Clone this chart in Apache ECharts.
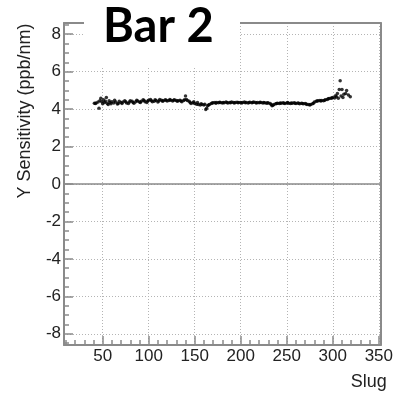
<!DOCTYPE html>
<html>
<head>
<meta charset="utf-8">
<script src="https://cdn.jsdelivr.net/npm/echarts@6/dist/echarts.min.js"></script>
<style>
  html, body { margin: 0; padding: 0; background: #fff; }
  #chart { width: 396px; height: 397px; }
</style>
</head>
<body>
<div id="chart"></div>
<script>
// Y sensitivity per slug, [slug, ppb/nm]
const sensitivity = [
  [41,4.32],[42,4.30],[43,4.33],[45,4.38],[46,4.05],[47,4.45],[48,4.58],[49,4.40],[50,4.28],
  [51,4.50],[52,4.35],[53,4.42],[54,4.62],[55,4.30],[56,4.25],[57,4.45],[58,4.36],[59,4.28],[60,4.40],
  [62,4.33],[63,4.48],[64,4.38],[66,4.27],[67,4.30],[68,4.42],[70,4.35],[71,4.30],[72,4.38],[74,4.45],
  [75,4.40],[76,4.33],[78,4.30],[79,4.38],[80,4.45],[82,4.42],[83,4.36],[84,4.32],[86,4.40],[87,4.48],
  [88,4.44],[90,4.38],[91,4.35],[92,4.42],[94,4.50],[95,4.46],[96,4.40],[98,4.36],[99,4.44],[100,4.48],
  [102,4.52],[103,4.45],[104,4.40],[106,4.42],[107,4.50],[108,4.46],[110,4.38],[111,4.44],[112,4.52],
  [114,4.48],[115,4.42],[116,4.45],[118,4.50],[119,4.47],[120,4.43],[122,4.46],[123,4.52],[124,4.48],
  [126,4.44],[127,4.47],[128,4.50],[130,4.46],[131,4.42],[132,4.45],[134,4.48],[135,4.44],[136,4.40],
  [138,4.46],[139,4.50],[140,4.70],[141,4.52],[142,4.46],[144,4.42],[145,4.36],[146,4.30],[148,4.34],
  [149,4.40],[150,4.30],[152,4.26],[153,4.35],[154,4.25],[156,4.22],[157,4.28],[158,4.24],[160,4.22],
  [161,4.26],[162,3.98],[163,4.05],[164,4.18],[165,4.22],[166,4.25],[168,4.30],[169,4.33],[170,4.34],
  [172,4.35],[173,4.32],[174,4.36],[176,4.34],[177,4.37],[178,4.35],[180,4.33],[181,4.36],[182,4.34],
  [184,4.38],[185,4.35],[186,4.33],[188,4.36],[189,4.34],[190,4.38],[192,4.36],[193,4.33],[194,4.35],
  [196,4.37],[197,4.34],[198,4.36],[200,4.35],[201,4.33],[202,4.36],[204,4.38],[205,4.34],[206,4.36],
  [208,4.33],[209,4.35],[210,4.37],[212,4.34],[213,4.36],[214,4.38],[216,4.35],[217,4.33],[218,4.36],
  [220,4.34],[221,4.37],[222,4.35],[224,4.33],[225,4.36],[226,4.34],[228,4.32],[229,4.34],[230,4.33],
  [232,4.30],[233,4.25],[234,4.18],[235,4.20],[236,4.25],[238,4.28],[239,4.30],[240,4.32],[242,4.30],
  [243,4.33],[244,4.31],[246,4.34],[247,4.32],[248,4.30],[250,4.33],[251,4.35],[252,4.32],[254,4.30],
  [255,4.33],[256,4.31],[258,4.34],[259,4.32],[260,4.30],[262,4.33],[263,4.31],[264,4.29],[266,4.32],
  [267,4.30],[268,4.28],[270,4.30],[271,4.27],[272,4.25],[274,4.24],[275,4.22],[276,4.25],[278,4.28],
  [279,4.32],[280,4.38],[282,4.42],[283,4.44],[284,4.45],[286,4.46],[287,4.44],[288,4.46],[290,4.45],
  [291,4.47],[292,4.50],[294,4.52],[295,4.55],[296,4.57],[298,4.58],[299,4.60],[300,4.62],[302,4.60],
  [303,4.72],[304,4.66],[305,4.84],[306,4.58],[307,5.05],[308,5.51],[309,4.70],[310,5.05],[311,4.62],
  [312,4.80],[314,4.84],[315,5.00],[317,4.75],[319,4.66]
];

// Axis ranges and tick positions
const xRange = [8, 352];
const yRange = [-8.6, 8.6];
const xMajorTicks = [50, 100, 150, 200, 250, 300, 350];
const xMinorTicks = [10, 20, 30, 40, 60, 70, 80, 90, 110, 120, 130, 140, 160, 170, 180, 190,
  210, 220, 230, 240, 260, 270, 280, 290, 310, 320, 330, 340];
const yMajorTicks = [-8, -6, -4, -2, 0, 2, 4, 6, 8];
const yMinorTicks = [-8.5, -7.5, -7, -6.5, -5.5, -5, -4.5, -3.5, -3, -2.5, -1.5, -1, -0.5,
  0.5, 1, 1.5, 2.5, 3, 3.5, 4.5, 5, 5.5, 6.5, 7, 7.5, 8.5];

const AXIS_GREY = '#8a8a8a';
const GRID_GREY = '#b4b4b4';
const TEXT = '#222';
const FONT = '"Liberation Sans", Arial, Helvetica, sans-serif';

const hidden = { show: false };

const chart = echarts.init(document.getElementById('chart'), null, { renderer: 'canvas' });

chart.setOption({
  animation: false,
  backgroundColor: '#fff',
  grid: { left: 64, right: 12, top: 23, bottom: 52, containLabel: false },
  xAxis: [
    {
      type: 'value', min: xRange[0], max: xRange[1], position: 'bottom',
      name: 'Slug', nameLocation: 'end', nameGap: 6,
      nameTextStyle: { color: TEXT, fontFamily: FONT, fontSize: 18, align: 'right', verticalAlign: 'top', padding: [28, 0, 0, 0] },
      axisLine: { show: true, onZero: false, lineStyle: { color: AXIS_GREY, width: 2 } },
      axisTick: { show: true, inside: true, length: 9, customValues: xMajorTicks, lineStyle: { color: AXIS_GREY, width: 1.5 } },
      axisLabel: { show: true, customValues: xMajorTicks, margin: 3, color: TEXT, fontFamily: FONT, fontSize: 17 },
      splitLine: { show: true, lineStyle: { color: GRID_GREY, width: 1, type: [1, 2] } }
    },
    {
      type: 'value', min: xRange[0], max: xRange[1], position: 'bottom',
      axisLine: { show: false, onZero: false },
      axisTick: { show: true, inside: true, length: 5, customValues: xMinorTicks, lineStyle: { color: AXIS_GREY, width: 1.5 } },
      axisLabel: hidden, splitLine: hidden
    },
    {
      type: 'value', min: xRange[0], max: xRange[1], position: 'top',
      axisLine: { show: true, onZero: false, lineStyle: { color: AXIS_GREY, width: 2 } },
      axisTick: hidden, axisLabel: hidden, splitLine: hidden
    }
  ],
  yAxis: [
    {
      type: 'value', min: yRange[0], max: yRange[1], position: 'left',
      name: 'Y Sensitivity (ppb/nm)', nameLocation: 'middle', nameGap: 30, nameRotate: 90,
      nameTextStyle: { color: TEXT, fontFamily: FONT, fontSize: 18, padding: [0, 0, 0, 146] },
      axisLine: { show: true, onZero: false, lineStyle: { color: AXIS_GREY, width: 2 } },
      axisTick: { show: true, inside: true, length: 9, customValues: yMajorTicks, lineStyle: { color: AXIS_GREY, width: 1.5 } },
      axisLabel: { show: true, customValues: yMajorTicks, margin: 3, color: TEXT, fontFamily: FONT, fontSize: 17 },
      splitLine: { show: true, lineStyle: { color: GRID_GREY, width: 1, type: [1, 2] } }
    },
    {
      type: 'value', min: yRange[0], max: yRange[1], position: 'left',
      axisLine: { show: false, onZero: false },
      axisTick: { show: true, inside: true, length: 5, customValues: yMinorTicks, lineStyle: { color: AXIS_GREY, width: 1.5 } },
      axisLabel: hidden, splitLine: hidden
    },
    {
      type: 'value', min: yRange[0], max: yRange[1], position: 'right',
      axisLine: { show: true, onZero: false, lineStyle: { color: AXIS_GREY, width: 2 } },
      axisTick: hidden, axisLabel: hidden, splitLine: hidden
    }
  ],
  series: [
    {
      type: 'scatter',
      xAxisIndex: 0, yAxisIndex: 0,
      data: sensitivity,
      symbol: 'circle', symbolSize: 3.5,
      itemStyle: { color: '#000' },
      silent: true,
      markLine: {
        silent: true, symbol: 'none', label: { show: false },
        lineStyle: { color: AXIS_GREY, width: 1.5, type: 'solid' },
        data: [{ yAxis: 0 }]
      }
    }
  ],
  graphic: [
    {
      type: 'rect', left: 84, top: 0, z: 100, zlevel: 1,
      shape: { x: 0, y: 0, width: 156, height: 66 },
      style: { fill: '#fff' }
    },
    {
      type: 'text', left: 103, top: 3, z: 101, zlevel: 1,
      style: { text: 'Bar 2', fill: '#000', font: 'bold 47px Lato, "Open Sans", sans-serif' }
    }
  ]
});
</script>
</body>
</html>
